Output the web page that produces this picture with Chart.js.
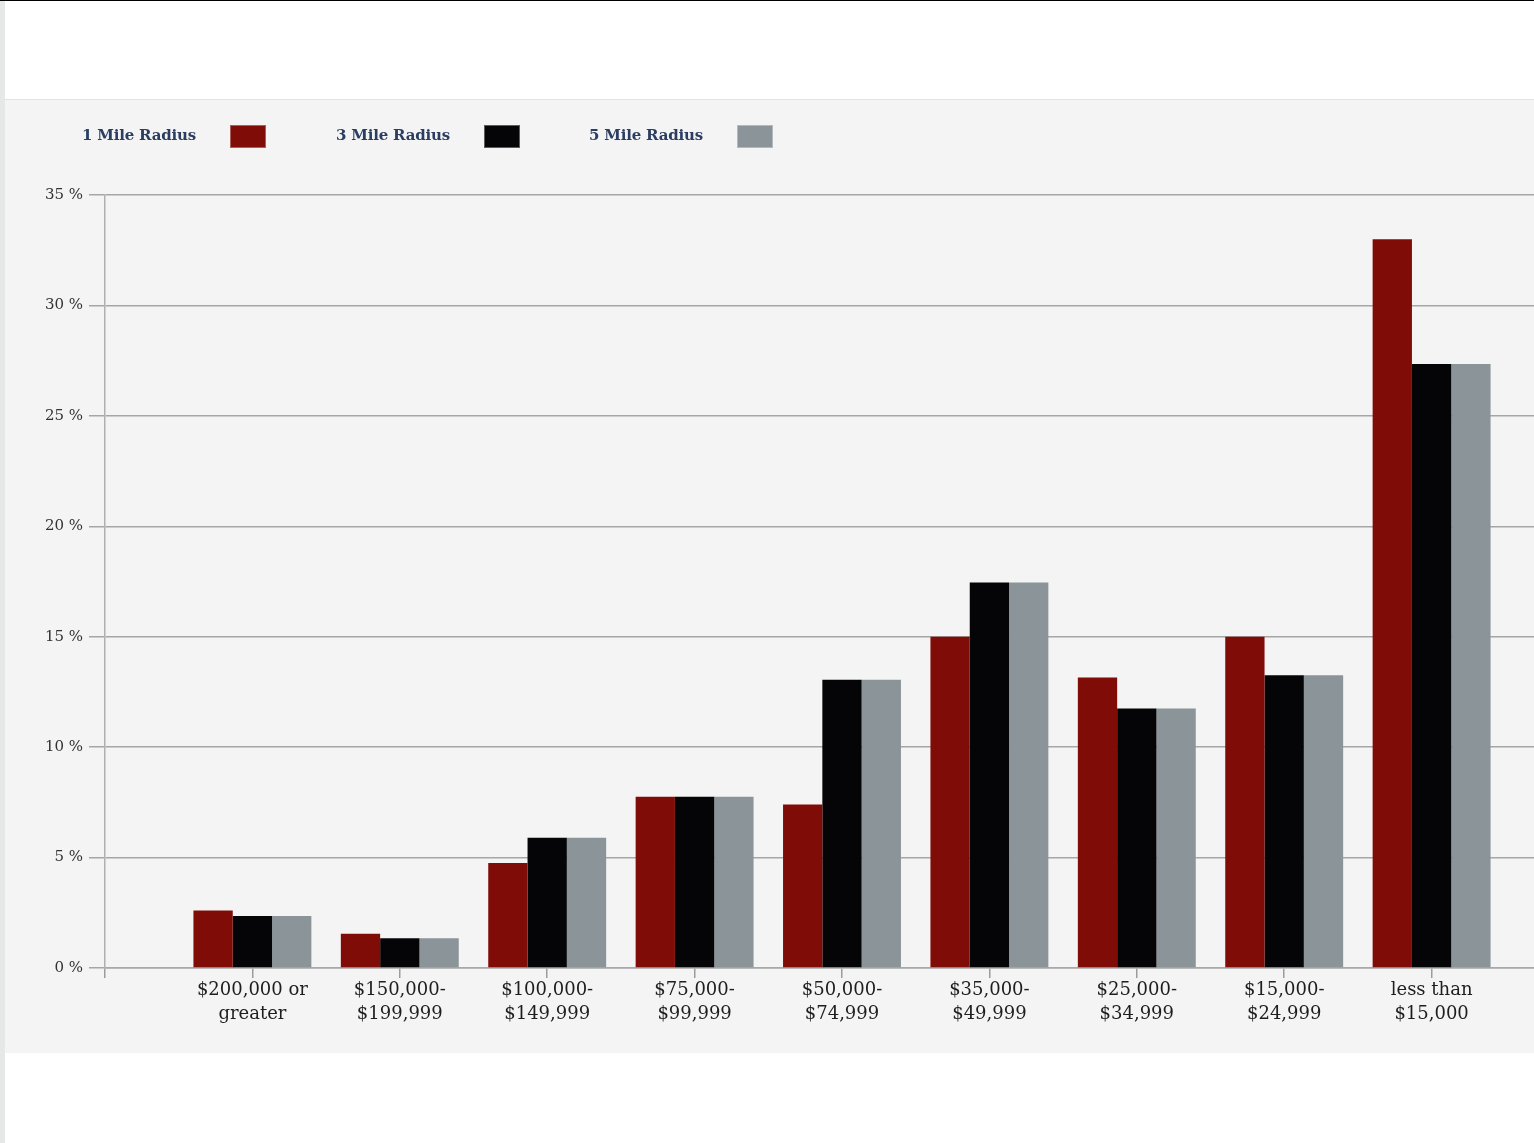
<!DOCTYPE html>
<html>
<head>
<meta charset="utf-8">
<script src="https://cdn.jsdelivr.net/npm/chart.js@4.4.1/dist/chart.umd.min.js"></script>
<style>
  html, body { margin: 0; padding: 0; background: #fff; overflow: hidden; }
  body { width: 1534px; height: 1143px; position: relative; border-top: 1px solid #000; box-sizing: border-box; }
  .edge { position: absolute; left: 0; top: 0; width: 5px; height: 1143px; background: #e6e8e8; }
  .panel { position: absolute; left: 5px; top: 98px; width: 1529px; height: 954px; background: #f4f4f4; border-top: 1px solid #e2e2e2; box-sizing: border-box; overflow: hidden; }
  .panel canvas { position: absolute; left: 0; top: -1px; }
  .legend { position: absolute; top: 24px; left: 0; }
  .legend .item { position: absolute; top: 0; height: 24px; white-space: nowrap; }
  .legend .txt { position: absolute; top: 2px; font: bold 15px "DejaVu Serif", serif; color: #2b3d61; letter-spacing: -0.2px; }
  .legend .box { position: absolute; top: 1px; width: 36px; height: 23px; box-sizing: border-box; border: 1px solid rgba(255,255,255,0.35); }
</style>
</head>
<body>
<div class="edge"></div>
<div class="panel">
  <div class="wrap" style="position:absolute;left:0;top:0;width:1575px;height:954px;">
    <canvas id="c"></canvas>
  </div>
  <div class="legend" id="legend"></div>
</div>
<script>
const categories = [
  ['$200,000 or', 'greater'],
  ['$150,000-', '$199,999'],
  ['$100,000-', '$149,999'],
  ['$75,000-', '$99,999'],
  ['$50,000-', '$74,999'],
  ['$35,000-', '$49,999'],
  ['$25,000-', '$34,999'],
  ['$15,000-', '$24,999'],
  ['less than', '$15,000']
];
const seriesNames = ['1 Mile Radius', '3 Mile Radius', '5 Mile Radius'];
const seriesColors = ['#800c08', '#050507', '#8a9499'];
const mile1 = [2.6, 1.55, 4.75, 7.75, 7.4, 15.0, 13.15, 15.0, 33.0];
const mile3 = [2.35, 1.35, 5.9, 7.75, 13.05, 17.45, 11.75, 13.25, 27.35];
const mile5 = [2.35, 1.35, 5.9, 7.75, 13.05, 17.45, 11.75, 13.25, 27.35];
const yTicks = [0, 5, 10, 15, 20, 25, 30, 35];

// empty slot before and after the groups, like the original layout
const labels = [''].concat(categories).concat(['']);
const pad = arr => [null].concat(arr).concat([null]);
const seriesValues = [mile1, mile3, mile5];

const legendEl = document.getElementById('legend');
const legendX = [77, 331, 584];
legendEl.innerHTML = seriesNames.map((n, i) => `
  <div class="item" style="left:${legendX[i]}px">
    <span class="txt">${n}</span>
    <span class="box" style="left:${148}px;background:${seriesColors[i]}"></span>
  </div>`).join('');

const fontSerif = '"DejaVu Serif", serif';

new Chart(document.getElementById('c'), {
  type: 'bar',
  data: {
    labels,
    datasets: seriesNames.map((n, i) => ({
      label: n,
      data: pad(seriesValues[i]),
      backgroundColor: seriesColors[i],
      borderWidth: 0,
      categoryPercentage: 0.8,
      barPercentage: 1.0
    }))
  },
  options: {
    responsive: true,
    maintainAspectRatio: false,
    animation: false,
    layout: { padding: { top: 96, left: 0, right: 0, bottom: 0 } },
    plugins: { legend: { display: false }, tooltip: { enabled: false } },
    scales: {
      x: {
        type: 'category',
        offset: false,
        grid: { offset: false, drawOnChartArea: false, drawTicks: true, tickLength: 10, color: '#9c9c9c', lineWidth: 1.5 },
        border: { display: true, color: '#a8a8a8', width: 1.5 },
        ticks: { autoSkip: false, maxRotation: 0, padding: 1, color: '#1e1e1e', font: { family: fontSerif, size: 18, lineHeight: 1.3 } },
        afterFit: s => { s.height = 85; }
      },
      y: {
        min: 0,
        max: 35,
        afterBuildTicks: s => { s.ticks = yTicks.map(v => ({ value: v })); },
        grid: { color: '#a6a6a6', lineWidth: 1.5, tickLength: 16 },
        border: { display: true, color: '#b0b0b0', width: 1.5 },
        ticks: { padding: 6, color: '#333', font: { family: fontSerif, size: 15 }, callback: v => v + ' %' },
        afterFit: s => { s.width = 100; }
      }
    }
  }
});
</script>
</body>
</html>
